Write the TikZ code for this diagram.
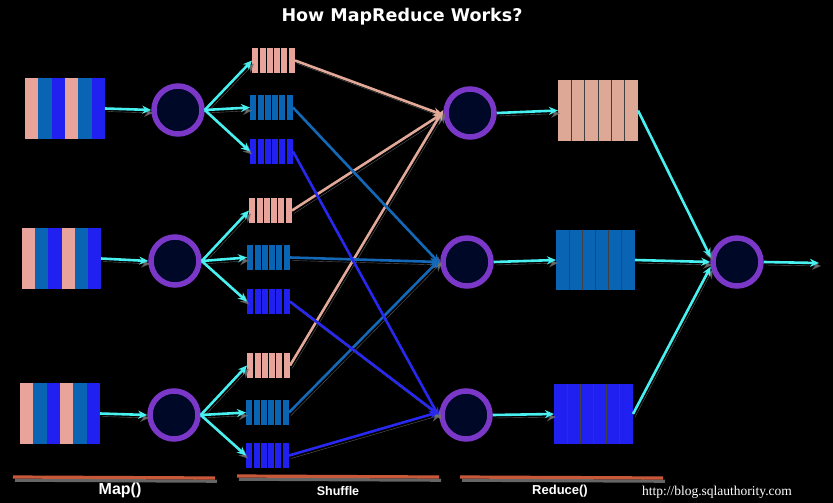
\documentclass[tikz,border=0pt]{standalone}
\usepackage{fontspec}
\setmainfont{Liberation Sans}
\newfontfamily\titlefont{DejaVu Sans}
\newfontfamily\urlfont{Liberation Serif}
\usetikzlibrary{arrows.meta,calc}
\definecolor{pinkc}{HTML}{E8A49A}
\definecolor{pinkr}{HTML}{DEA896}
\definecolor{steelc}{HTML}{0A64B4}
\definecolor{bluec}{HTML}{2020F0}
\definecolor{cyanc}{HTML}{48F0F0}
\definecolor{ringc}{HTML}{7B38C8}
\definecolor{corec}{HTML}{000828}
\definecolor{barc}{HTML}{C8583A}
\definecolor{shadowc}{HTML}{707070}
\definecolor{shpink}{HTML}{E2A898}
\definecolor{shsteel}{HTML}{1468B8}
\definecolor{shblue}{HTML}{2828F0}
\tikzset{
  blockbox/.style={inner sep=0pt, outer sep=0pt, draw=none},
  worker/.style={circle, draw=ringc, fill=corec, line width=5.5pt, minimum size=48pt, inner sep=0pt},
  shadowed/.style={preaction={draw=shadowc, opacity=0.8, transform canvas={shift={(2pt,-3pt)}}}},
  cyanarrow/.style={shadowed, draw=cyanc, line width=2.6pt, -{Stealth[length=9pt,width=8pt]}},
  shufline/.style={shadowed, line width=2.6pt, -{Stealth[length=10pt,width=8pt]}},
  sepline/.style={draw=black, line width=1.4pt},
  thinsep/.style={draw=black!75, line width=0.9pt},
  nosep/.style={draw=none},
  label/.style={text=white, font=\bfseries, inner sep=0pt},
  barline/.style={draw=barc, line width=3.2pt, preaction={draw=shadowc, opacity=0.9, line width=3.2pt, transform canvas={shift={(2pt,-3.2pt)}}}}
}
% name, x, y, w, h, colour list, separator style
\newcommand\stripeblock[7]{%
  \node[blockbox, minimum width=#4pt, minimum height=#5pt] (#1) at ({#2+#4/2},{#3+#5/2}) {};
  \foreach \cc [count=\ii from 0] in {#6} {
    \fill[\cc] ($(#1.north west)+({\ii*#4/6},0)$) rectangle ++({#4/6},#5);
  }
  \foreach \ii in {1,...,5} {
    \draw[#7] ($(#1.north west)+({\ii*#4/6},0)$) -- ++(0,#5);
  }
}
\begin{document}
\begin{tikzpicture}[x=1pt,y=-1pt]
\fill[black] (0,0) rectangle (833,503);
\useasboundingbox (0,0) rectangle (833,503);

\node[text=white, font=\titlefont\bfseries\fontsize{17.5}{20}\selectfont, inner sep=0pt] (title) at (402,17) {How MapReduce Works?};

% input blocks
\stripeblock{in1}{25}{78}{80}{61}{pinkc,steelc,bluec,pinkc,steelc,bluec}{nosep}
\stripeblock{in2}{22}{228}{79}{61}{pinkc,steelc,bluec,pinkc,steelc,bluec}{nosep}
\stripeblock{in3}{20}{383}{80}{61}{pinkc,steelc,bluec,pinkc,steelc,bluec}{nosep}

% map workers
\node[worker] (m1) at (178,110) {};
\node[worker] (m2) at (175,261) {};
\node[worker] (m3) at (174,415) {};

% shuffle blocks
\stripeblock{p1}{252}{48}{43}{25}{pinkc,pinkc,pinkc,pinkc,pinkc,pinkc}{sepline}
\stripeblock{s1}{250}{95}{43}{25}{steelc,steelc,steelc,steelc,steelc,steelc}{sepline}
\stripeblock{b1}{250}{139}{43}{25}{bluec,bluec,bluec,bluec,bluec,bluec}{sepline}
\stripeblock{p2}{249}{198}{43}{25}{pinkc,pinkc,pinkc,pinkc,pinkc,pinkc}{sepline}
\stripeblock{s2}{247}{245}{43}{25}{steelc,steelc,steelc,steelc,steelc,steelc}{sepline}
\stripeblock{b2}{247}{289}{43}{25}{bluec,bluec,bluec,bluec,bluec,bluec}{sepline}
\stripeblock{p3}{247}{353}{43}{25}{pinkc,pinkc,pinkc,pinkc,pinkc,pinkc}{sepline}
\stripeblock{s3}{246}{400}{43}{25}{steelc,steelc,steelc,steelc,steelc,steelc}{sepline}
\stripeblock{b3}{246}{443}{43}{25}{bluec,bluec,bluec,bluec,bluec,bluec}{sepline}

% reduce workers
\node[worker] (r1) at (470,113) {};
\node[worker] (r2) at (467,262) {};
\node[worker] (r3) at (466,415) {};

% reduce outputs
\stripeblock{o1}{558}{80}{80}{61}{pinkr,pinkr,pinkr,pinkr,pinkr,pinkr}{thinsep}
\stripeblock{o2}{556}{230}{79}{60}{steelc,steelc,steelc,steelc,steelc,steelc}{thinsep}
\stripeblock{o3}{554}{384}{79}{60}{bluec,bluec,bluec,bluec,bluec,bluec}{thinsep}

% final worker
\node[worker] (f) at (737,262) {};
\coordinate (out) at (819,263);

% input -> map
\draw[cyanarrow] (in1.east) -- (m1.west);
\draw[cyanarrow] (in2.east) -- (m2.west);
\draw[cyanarrow] (in3.east) -- (m3.west);

% map -> partitions
\foreach \r in {1,2,3} {
  \draw[cyanarrow] (m\r.east) -- (p\r.west);
  \draw[cyanarrow] (m\r.east) -- (s\r.west);
  \draw[cyanarrow] (m\r.east) -- (b\r.west);
}

% shuffle
\draw[shufline, draw=shpink] (p1.east) -- ([yshift=-2pt]r1.west);
\draw[shufline, draw=shpink] (p2.east) -- (r1.west);
\draw[shufline, draw=shpink] (p3.east) -- ([yshift=3pt]r1.west);
\draw[shufline, draw=shsteel] (s1.east) -- ([yshift=-2pt]r2.west);
\draw[shufline, draw=shsteel] (s2.east) -- (r2.west);
\draw[shufline, draw=shsteel] (s3.east) -- ([yshift=3pt]r2.west);
\draw[shufline, draw=shblue] (b1.east) -- ([yshift=-2pt]r3.west);
\draw[shufline, draw=shblue] (b2.east) -- (r3.west);
\draw[shufline, draw=shblue] (b3.east) -- ([yshift=3pt]r3.west);

% reduce -> outputs
\draw[cyanarrow] (r1.east) -- (o1.west);
\draw[cyanarrow] (r2.east) -- (o2.west);
\draw[cyanarrow] (r3.east) -- (o3.west);

% outputs -> final
\draw[cyanarrow] (o1.east) -- (f.170);
\draw[cyanarrow] (o2.east) -- (f.west);
\draw[cyanarrow] (o3.east) -- (f.190);
\draw[cyanarrow] (f.east) -- (out);

% bottom bars
\coordinate (a1) at (13,477); \coordinate (a2) at (215,478);
\coordinate (b1l) at (237,476); \coordinate (b2l) at (439,477);
\coordinate (c1) at (460,477); \coordinate (c2) at (663,478);
\draw[barline] (a1) -- (a2);
\draw[barline] (b1l) -- (b2l);
\draw[barline] (c1) -- (c2);

\node[label, font=\bfseries\fontsize{16}{18}\selectfont] (lmap) at (120,490) {Map()};
\node[label, font=\bfseries\fontsize{12.5}{14}\selectfont] (lshuf) at (338,491) {Shuffle};
\node[label, font=\bfseries\fontsize{13}{15}\selectfont] (lred) at (560,491) {Reduce()};
\node[text=white, inner sep=0pt, font=\urlfont\fontsize{13.5}{15}\selectfont] (url) at (717,492) {http://blog.sqlauthority.com};
\end{tikzpicture}
\end{document}
